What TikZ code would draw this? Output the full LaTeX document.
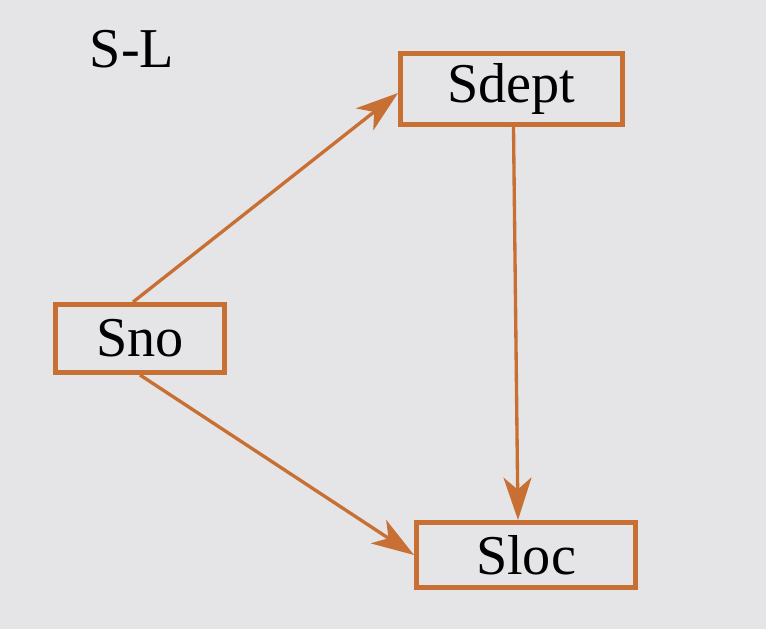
\documentclass[tikz,border=0pt]{standalone}
\usepackage{fontspec}
\setmainfont{Liberation Serif}
\usetikzlibrary{arrows.meta}
\definecolor{boxorange}{RGB}{200,112,52}
\definecolor{paper}{RGB}{229,229,231}
\tikzset{
  attrbox/.style={draw=boxorange,line width=2.8pt,inner sep=0pt,font=\fontsize{32}{38}\selectfont},
  dep/.style={draw=boxorange,line width=1.9pt,-{Stealth[length=0.85cm,width=0.56cm,inset=0.24cm]}}
}

\begin{document}
\begin{tikzpicture}
	\fill[paper] (0,0) rectangle (15.32,12.58);
	\useasboundingbox (0,0) rectangle (15.32,12.58);
	%BOXES
	\node[attrbox,minimum width=4.44cm,minimum height=1.42cm] (sdept) at (10.23,10.8) {Sdept};
	\node[attrbox,minimum width=3.38cm,minimum height=1.36cm] (sno) at (2.8,5.81) {Sno};
	\node[attrbox,minimum width=4.38cm,minimum height=1.3cm] (sloc) at (10.52,1.48) {Sloc};
	
	%ARROWS
	\draw[dep] ([xshift=-0.14cm]sno.north) -- ([yshift=-0.08cm]sdept.west);
	\draw[dep] ([xshift=0.04cm]sdept.south) -- ([xshift=-0.16cm]sloc.north);
	\draw[dep] (sno.south) -- (sloc.west);
	
	%LABELS
	\node[font=\fontsize{32}{38}\selectfont] (title) at (2.64,11.6) {S-L};
\end{tikzpicture}
\end{document}
